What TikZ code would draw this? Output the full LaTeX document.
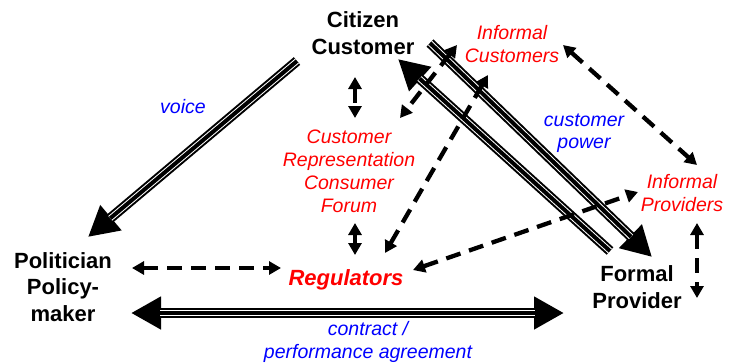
\documentclass[tikz,border=0pt]{standalone}
\usepackage{fontspec}
\setmainfont{Liberation Sans}
\usetikzlibrary{arrows.meta}
\begin{document}
\begin{tikzpicture}[x=1pt,y=-1pt,
 lbl/.style={align=center, inner sep=0pt},
 actor/.style={lbl, font=\fontsize{22}{26.5}\selectfont\bfseries},
 informal/.style={lbl, text=red, font=\fontsize{19.5}{23}\selectfont\itshape},
 flow/.style={lbl, text=blue, font=\fontsize{19.5}{22.5}\selectfont\itshape},
 tri/.style={line width=10pt, -{Triangle[length=30pt,width=31pt]},
   postaction={draw=white,line width=6pt,-,shorten >=29pt},
   postaction={draw=black,line width=4pt,-,shorten >=29pt}},
 tritwo/.style={line width=10pt, {Triangle[length=30pt,width=31pt]}-{Triangle[length=30pt,width=31pt]},
   postaction={draw=white,line width=6pt,-,shorten >=29pt,shorten <=29pt},
   postaction={draw=black,line width=4pt,-,shorten >=29pt,shorten <=29pt}},
 dsh/.style={line width=4.3pt, dash pattern=on 15pt off 9pt,
   {Triangle[length=12pt,width=13pt]}-{Triangle[length=12pt,width=13pt]}},
]
\useasboundingbox (0,0) rectangle (732,362);

% text nodes
\node[actor] (cit) at (363,33) {Citizen\\Customer};
\node[actor] (pol) at (63,287) {Politician\\Policy-\\maker};
\node[actor] (fp) at (637,287) {Formal\\Provider};
\node[lbl, text=red, font=\fontsize{22}{26}\selectfont\bfseries\itshape] (reg) at (346,280) {Regulators};
\node[informal] (ic) at (512,44) {Informal\\Customers};
\node[informal] (ip) at (682,193) {Informal\\Providers};
\node[informal] (crcf) at (349,171) {Customer\\Representation\\Consumer\\Forum};
\node[flow] (voice) at (183,107) {voice};
\node[flow] (cp) at (584,133) {customer\\power};
\node[flow] (contract) at (368,342) {contract /\\performance agreement};

% connector end points
\coordinate (v1) at (297,61);  \coordinate (v2) at (88,237);
\coordinate (cf1) at (430,43); \coordinate (cf2) at (652,257);
\coordinate (fc1) at (610,251); \coordinate (fc2) at (398,59);
\coordinate (k1) at (131,313); \coordinate (k2) at (564,313);

\coordinate (a1) at (132,268); \coordinate (a2) at (281,268);
\coordinate (b1) at (355,77);  \coordinate (b2) at (355,118);
\coordinate (c1) at (355,223); \coordinate (c2) at (355,255);
\coordinate (d1) at (457,45);  \coordinate (d2) at (400,118);
\coordinate (e1) at (385,253); \coordinate (e2) at (488,75);
\coordinate (f1) at (563,45);  \coordinate (f2) at (697,165);
\coordinate (g1) at (697,223); \coordinate (g2) at (697,298);
\coordinate (h1) at (413,270); \coordinate (h2) at (638,192);

% main flows
\draw[tri] (v1) -- (v2);
\draw[tri] (cf1) -- (cf2);
\draw[tri] (fc1) -- (fc2);
\draw[tritwo] (k1) -- (k2);

% informal / dashed links
\draw[dsh] (a1) -- (a2);
\draw[dsh] (b1) -- (b2);
\draw[dsh] (c1) -- (c2);
\draw[dsh] (d1) -- (d2);
\draw[dsh] (e1) -- (e2);
\draw[dsh] (f1) -- (f2);
\draw[dsh] (g1) -- (g2);
\draw[dsh] (h1) -- (h2);
\end{tikzpicture}
\end{document}
